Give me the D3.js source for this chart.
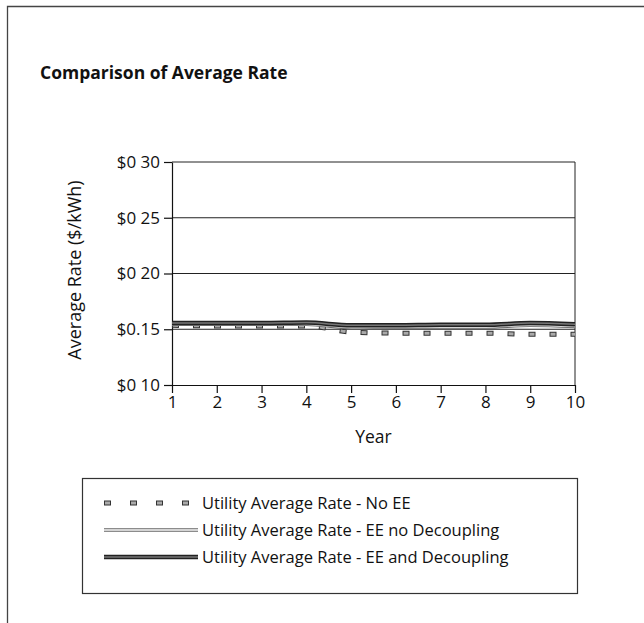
<!DOCTYPE html>
<html>
<head>
<meta charset="utf-8">
<script src="https://cdn.jsdelivr.net/npm/d3@7"></script>
<style>
  body { margin: 0; background: #fff; }
  svg { display: block; font-family: "Open Sans", "Noto Sans", sans-serif; }
</style>
</head>
<body>
<div id="chart"></div>
<script>
// data
const years = [1, 2, 3, 4, 5, 6, 7, 8, 9, 10];
const noEE = [0.1535, 0.153, 0.153, 0.153, 0.1475, 0.1465, 0.1465, 0.1465, 0.1455, 0.1455];
const eeNoDecoupling = [0.1545, 0.1545, 0.1545, 0.1545, 0.1515, 0.152, 0.152, 0.152, 0.1535, 0.1525];
const eeAndDecoupling = [0.1555, 0.1555, 0.1555, 0.156, 0.1535, 0.1535, 0.154, 0.154, 0.1555, 0.1545];
const yTicks = [0.10, 0.15, 0.20, 0.25, 0.30];
const yTickLabels = ["$0 10", "$0.15", "$0 20", "$0 25", "$0 30"];
const seriesNames = [
    "Utility Average Rate - No EE",
    "Utility Average Rate - EE no Decoupling",
    "Utility Average Rate - EE and Decoupling"
];

const svgWidth = 644;
const svgHeight = 623;
const margin = {top: 162, right: 69, bottom: 238, left: 172};
const width = svgWidth - margin.left - margin.right;
const height = svgHeight - margin.top - margin.bottom;

const root = d3.select("#chart")
    .append("svg")
    .attr("width", svgWidth)
    .attr("height", svgHeight);

// outer frame (left and top only, as in the scan)
root.append("path")
    .attr("d", "M7.5,623 V6.5 H644")
    .attr("fill", "none")
    .attr("stroke", "#444")
    .attr("stroke-width", 1.3);

root.append("text")
    .attr("x", 40)
    .attr("y", 79)
    .style("font-size", "17.5px")
    .style("font-weight", "bold")
    .attr("fill", "#111")
    .text("Comparison of Average Rate");

const svg = root.append("g")
    .attr("transform", "translate(" + margin.left + "," + margin.top + ")");

const x = d3.scaleLinear()
    .domain([1, 10])
    .range([0, width]);

const y = d3.scaleLinear()
    .domain([0.10, 0.30])
    .range([height, 0]);

// horizontal gridlines
svg.selectAll(".grid")
    .data(yTicks.slice(1))
    .enter().append("line")
    .attr("class", "grid")
    .attr("x1", 0)
    .attr("x2", width)
    .attr("y1", d => y(d))
    .attr("y2", d => y(d))
    .attr("stroke", "#222")
    .attr("stroke-width", 1);

// right edge of plot area
svg.append("line")
    .attr("x1", width).attr("x2", width)
    .attr("y1", 0).attr("y2", height)
    .attr("stroke", "#222");

const xAxis = svg.append("g")
    .attr("transform", "translate(0," + height + ")")
    .call(d3.axisBottom(x).tickValues(years).tickFormat(d3.format("d")).tickSize(8).tickSizeOuter(0));

const yAxis = svg.append("g")
    .call(d3.axisLeft(y).tickValues(yTicks).tickFormat((d, i) => yTickLabels[i]).tickSize(8).tickSizeOuter(0));

[xAxis, yAxis].forEach(function (a) {
    a.select(".domain").attr("stroke", "#111").attr("stroke-width", 1.2);
    a.selectAll(".tick line").attr("stroke", "#111").attr("stroke-width", 1.2);
    a.selectAll(".tick text")
        .attr("fill", "#111")
        .style("font-family", "'Liberation Sans Narrow', 'Open Sans', sans-serif")
        .style("font-size", "17px");
});
yAxis.selectAll(".tick text").attr("x", -12);

svg.append("text")
    .attr("x", width / 2)
    .attr("y", height + 58)
    .attr("text-anchor", "middle")
    .style("font-size", "17.5px")
    .attr("fill", "#111")
    .text("Year");

root.append("text")
    .attr("transform", "translate(81,270) rotate(-90)")
    .attr("text-anchor", "middle")
    .style("font-size", "18px")
    .attr("fill", "#111")
    .text("Average Rate ($/kWh)");

const line = d3.line()
    .x((d, i) => x(years[i]))
    .y(d => y(d))
    .curve(d3.curveMonotoneX);

// line styles: outer stroke with a lighter core
const styles = [
    {outer: "#333", outerW: 5, inner: "#aaa", innerW: 3, dash: "7,14", innerDash: "5,16", innerOff: -1},
    {outer: "#666", outerW: 3.5, inner: "#d4d4d4", innerW: 1.8},
    {outer: "#222", outerW: 4.5, inner: "#777", innerW: 1.5}
];
const seriesData = [noEE, eeNoDecoupling, eeAndDecoupling];

seriesData.forEach(function (values, k) {
    const s = styles[k];
    svg.append("path")
        .datum(values)
        .attr("d", line)
        .attr("fill", "none")
        .attr("stroke", s.outer)
        .attr("stroke-width", s.outerW)
        .attr("stroke-dasharray", s.dash || null);
    svg.append("path")
        .datum(values)
        .attr("d", line)
        .attr("fill", "none")
        .attr("stroke", s.inner)
        .attr("stroke-width", s.innerW)
        .attr("stroke-dasharray", s.innerDash || null)
        .attr("stroke-dashoffset", s.innerOff || 0);
});

// legend
const legend = root.append("g");
legend.append("rect")
    .attr("x", 82.5)
    .attr("y", 478.5)
    .attr("width", 495)
    .attr("height", 115)
    .attr("fill", "none")
    .attr("stroke", "#333")
    .attr("stroke-width", 1.2);

const rows = legend.selectAll(".row")
    .data(seriesNames)
    .enter().append("g")
    .attr("class", "row")
    .attr("transform", (d, i) => "translate(0," + (503 + i * 27) + ")");

rows.each(function (d, i) {
    const g = d3.select(this);
    const s = styles[i];
    g.append("line")
        .attr("x1", 104).attr("x2", 198).attr("y1", 0).attr("y2", 0)
        .attr("stroke", s.outer).attr("stroke-width", s.outerW)
        .attr("stroke-dasharray", i === 0 ? "7,19" : null);
    g.append("line")
        .attr("x1", 104).attr("x2", 198).attr("y1", 0).attr("y2", 0)
        .attr("stroke", s.inner).attr("stroke-width", s.innerW)
        .attr("stroke-dasharray", i === 0 ? "5,21" : null)
        .attr("stroke-dashoffset", s.innerOff || 0);
    g.append("text")
        .attr("x", 202)
        .attr("dy", "0.35em")
        .style("font-size", "16.5px")
        .attr("fill", "#111")
        .text(d);
});
</script>
</body>
</html>
